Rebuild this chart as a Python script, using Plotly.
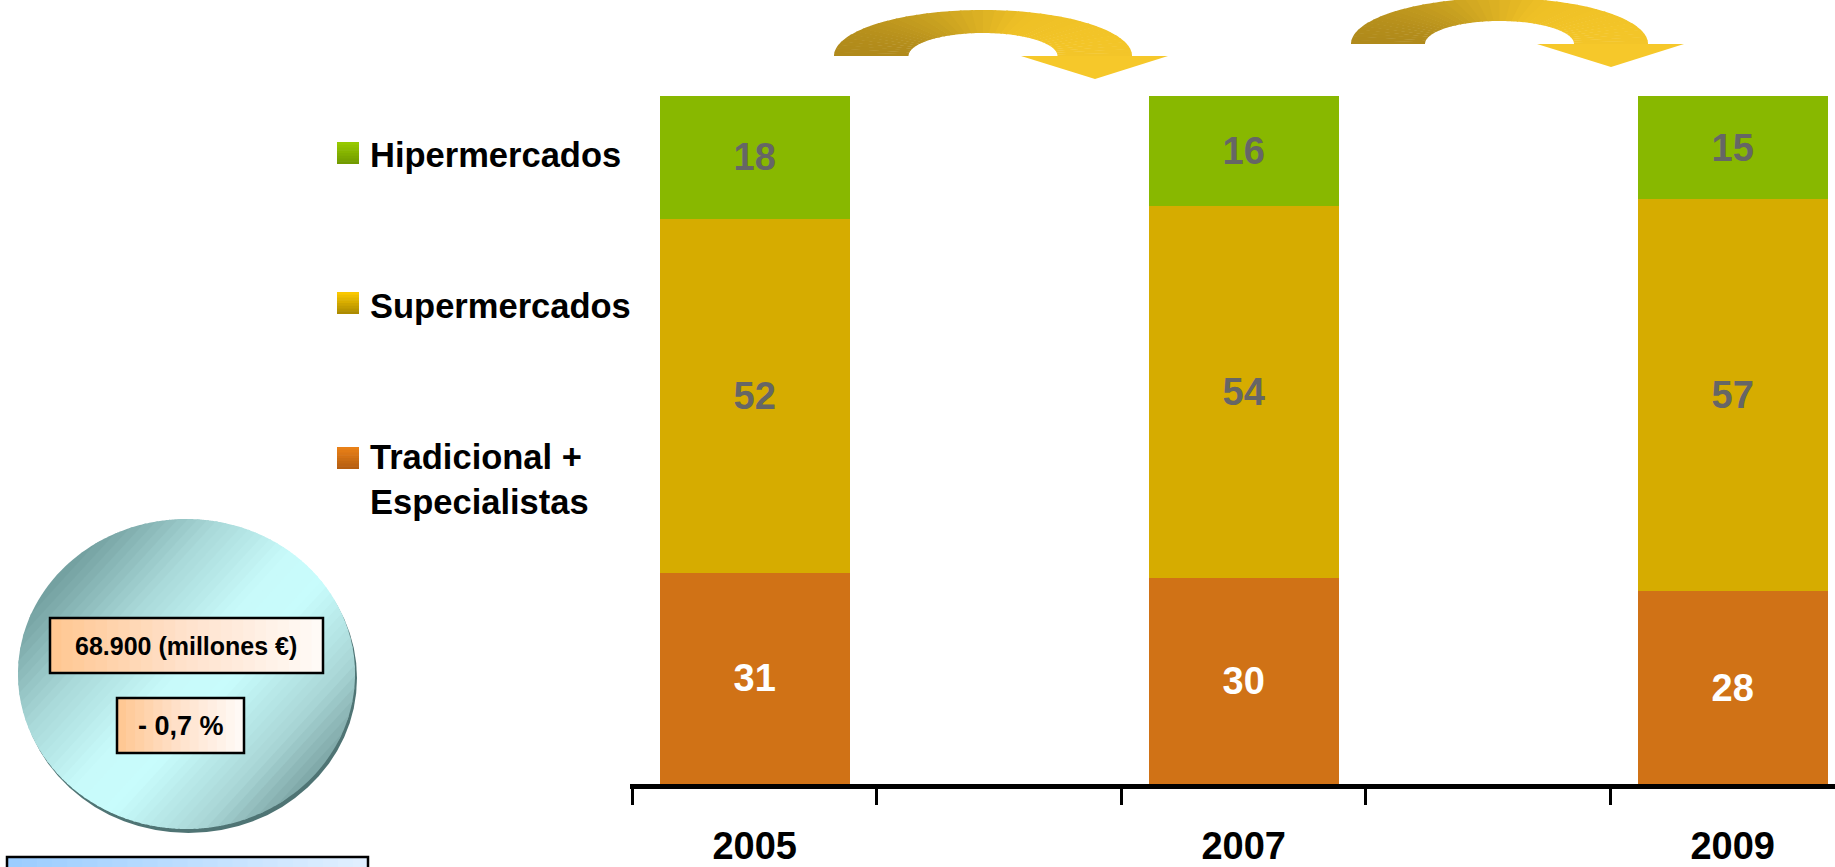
import math
import plotly.graph_objects as go

# ---------------- data ----------------
years = ['2005', '2007', '2009']
axis_years = ['2005', '2006', '2007', '2008', '2009']
axis_labels = ['2005', '', '2007', '', '2009']
tradicional = [31, 30, 28]
supermercados = [52, 54, 57]
hipermercados = [18, 16, 15]
legend_labels = ['Hipermercados', 'Supermercados', 'Tradicional +<br>Especialistas']
market_total = '68.900 (millones €)'
market_change = '- 0,7 %'

# ---------------- geometry helpers (pixel -> paper) ----------------
W, H = 1835, 867
ML, MR, MT, MB = 630, 0, 96, 83
PW, PH = W - ML - MR, H - MT - MB


def px(x):
    return (x - ML) / PW


def py(y):
    return (H - MB - y) / PH


def hex2rgb(h):
    h = h.lstrip('#')
    return [int(h[i:i + 2], 16) for i in (0, 2, 4)]


def grad(stops, t):
    t = max(0.0, min(1.0, t))
    for (t0, c0), (t1, c1) in zip(stops[:-1], stops[1:]):
        if t <= t1:
            f = 0 if t1 == t0 else (t - t0) / (t1 - t0)
            a, b = hex2rgb(c0), hex2rgb(c1)
            return 'rgb(%d,%d,%d)' % tuple(round(a[i] + (b[i] - a[i]) * f) for i in range(3))
    return 'rgb(%d,%d,%d)' % tuple(hex2rgb(stops[-1][1]))


def poly(points):
    return 'M' + 'L'.join('%.5f,%.5f' % (px(x), py(y)) for x, y in points) + 'Z'


shapes = []


def add_poly(points, color):
    shapes.append(dict(type='path', xref='paper', yref='paper', path=poly(points),
                       fillcolor=color, line=dict(width=0), layer='above'))


def add_rect(x0, y0, x1, y1, fill=None, line_color=None, lw=0):
    d = dict(type='rect', xref='paper', yref='paper', x0=px(x0), x1=px(x1), y0=py(y1), y1=py(y0),
             layer='above', line=dict(width=lw, color=line_color or 'rgba(0,0,0,0)'))
    d['fillcolor'] = fill if fill else 'rgba(0,0,0,0)'
    shapes.append(d)


def hgrad_rect(x0, y0, x1, y1, stops, n=24):
    w = (x1 - x0) / n
    for k in range(n):
        xa = x0 + k * w
        xb = min(x1, xa + w + 0.8)
        add_rect(xa, y0, xb, y1, fill=grad(stops, (k + 0.5) / n))


def vgrad_rect(x0, y0, x1, y1, stops, n=8):
    h = (y1 - y0) / n
    for k in range(n):
        ya = y0 + k * h
        yb = min(y1, ya + h + 0.6)
        add_rect(x0, ya, x1, yb, fill=grad(stops, (k + 0.5) / n))


# ---------------- decorative circle ----------------
ccx, ccy, ca, cb = 186.5, 674.0, 168.5, 155.0
shapes.append(dict(type='circle', xref='paper', yref='paper',
                   x0=px(ccx - ca + 2), x1=px(ccx + ca + 2), y0=py(ccy + cb + 4), y1=py(ccy - cb + 4),
                   fillcolor='#4F7474', line=dict(width=0), layer='above'))
circle_stops = [(0.0, '#729E9E'), (0.25, '#A8D8D8'), (0.48, '#C8FAFA'), (0.62, '#C8FCFC'),
                (0.85, '#A9D6D6'), (1.0, '#7EA6A6')]
phi = math.radians(40)
NS = 44
for k in range(NS):
    s1 = -1 + 2 * k / NS
    s2 = min(1.0, -1 + 2 * (k + 1) / NS + 0.012)
    a1, a2 = math.acos(max(-1, min(1, s2))), math.acos(max(-1, min(1, s1)))
    pts = []
    m = 10
    for j in range(m + 1):
        th = phi + a1 + (a2 - a1) * j / m
        pts.append((ccx + ca * math.cos(th), ccy + cb * math.sin(th)))
    for j in range(m + 1):
        th = phi - a2 + (a2 - a1) * j / m
        pts.append((ccx + ca * math.cos(th), ccy + cb * math.sin(th)))
    add_poly(pts, grad(circle_stops, (k + 0.5) / NS))

# peach boxes
peach = [(0.0, '#FFC690'), (0.5, '#FFE2CC'), (1.0, '#FFFBF8')]
hgrad_rect(50, 618, 323, 673, peach)
add_rect(50, 618, 323, 673, line_color='black', lw=2.5)
hgrad_rect(117, 698, 244, 753, peach, n=14)
add_rect(117, 698, 244, 753, line_color='black', lw=2.5)

# bottom blue box (cut by the page edge)
hgrad_rect(7, 857, 368, 872, [(0.0, '#99CCFF'), (1.0, '#E2F0FF')])
add_rect(7, 857, 368, 872, line_color='black', lw=2.5)

# ---------------- curved arrows ----------------
arrow_stops = [(0.0, '#A37E18'), (0.35, '#C8A020'), (0.62, '#EEC026'), (1.0, '#F6C82A')]


def curved_arrow(cx, by, ro, ryo, ri, ryi, hl, hr, tx, ty, n=40):
    for k in range(n):
        t1 = math.pi - k * math.pi / n
        t2 = max(0.0, math.pi - (k + 1) * math.pi / n - 0.012)
        pts = []
        m = 3
        for j in range(m + 1):
            th = t1 + (t2 - t1) * j / m
            pts.append((cx + ro * math.cos(th), by - ryo * math.sin(th)))
        for j in range(m + 1):
            th = t2 + (t1 - t2) * j / m
            pts.append((cx + ri * math.cos(th), by - ryi * math.sin(th)))
        tm = (t1 + t2) / 2
        xm = cx + (ro + ri) / 2 * math.cos(tm)
        add_poly(pts, grad(arrow_stops, (xm - (cx - ro)) / (2 * ro)))
    add_poly([(hl, by), (hr, by), (tx, ty)], '#F6C82A')


curved_arrow(983, 56, 149, 46, 74.5, 23, 1021, 1168, 1095, 79)
curved_arrow(1499.5, 44, 148.5, 46, 74.5, 23, 1537, 1684, 1611, 67)

# ---------------- legend (manual) ----------------
leg_sq_stops = [
    [(0.0, '#99CC00'), (1.0, '#6F9800')],
    [(0.0, '#FFCC00'), (1.0, '#A88700')],
    [(0.0, '#EC8218'), (1.0, '#B25C10')],
]
leg_sq_top = [142, 292, 447]
leg_txt_y = [155, 305.5, 479.5]
annotations = []
for i, lab in enumerate(legend_labels):
    vgrad_rect(337, leg_sq_top[i], 359, leg_sq_top[i] + 22, leg_sq_stops[i])
    annotations.append(dict(xref='paper', yref='paper', x=px(368), y=py(leg_txt_y[i]),
                            xanchor='left', yanchor='middle', align='left', showarrow=False,
                            text=lab,
                            font=dict(family='Liberation Sans, Arial, sans-serif', size=34.5,
                                      color='black', weight='bold')))

annotations.append(dict(xref='paper', yref='paper', x=px(186.5), y=py(646), xanchor='center',
                        yanchor='middle', showarrow=False, text=market_total,
                        font=dict(family='Liberation Sans, Arial, sans-serif', size=25,
                                  color='black', weight='bold')))
annotations.append(dict(xref='paper', yref='paper', x=px(180.5), y=py(726), xanchor='center',
                        yanchor='middle', showarrow=False, text=market_change,
                        font=dict(family='Liberation Sans, Arial, sans-serif', size=27,
                                  color='black', weight='bold')))

# ---------------- bars ----------------
BAR_FONT = 'Liberation Sans, Arial, sans-serif'
series = [
    ('Tradicional + Especialistas', tradicional, '#D07216', 'white'),
    ('Supermercados', supermercados, '#D6AC00', '#666666'),
    ('Hipermercados', hipermercados, '#88B800', '#666666'),
]
fig = go.Figure()
for name, vals, col, tcol in series:
    fig.add_trace(go.Bar(
        x=years, y=vals, name=name, text=vals, texttemplate='%{text}',
        textposition='inside', insidetextanchor='middle', textangle=0,
        textfont=dict(family=BAR_FONT, size=38, color=tcol, weight='bold'),
        marker=dict(color=col, line=dict(width=0)), width=0.776, showlegend=False,
    ))

fig.update_layout(
    width=W, height=H,
    margin=dict(l=ML, r=MR, t=MT, b=MB, pad=0),
    paper_bgcolor='white', plot_bgcolor='white',
    barmode='stack', barnorm='percent',
    showlegend=False,
    xaxis=dict(
        type='category', categoryorder='array', categoryarray=axis_years,
        tickmode='array', tickvals=axis_years, ticktext=axis_labels,
        tickson='boundaries', ticks='outside', ticklen=16, tickwidth=3, tickcolor='black',
        showline=True, linewidth=5, linecolor='black', showgrid=False, zeroline=False,
        range=[-0.51, -0.51 + PW / 244.5],
        tickfont=dict(family=BAR_FONT, size=38, color='black', weight='bold'),
        ticklabelstandoff=24,
    ),
    yaxis=dict(range=[0, 100], visible=False, showgrid=False, zeroline=False),
    shapes=shapes,
    annotations=annotations,
    uniformtext=dict(mode=False),
)

fig.write_html('out.html')
